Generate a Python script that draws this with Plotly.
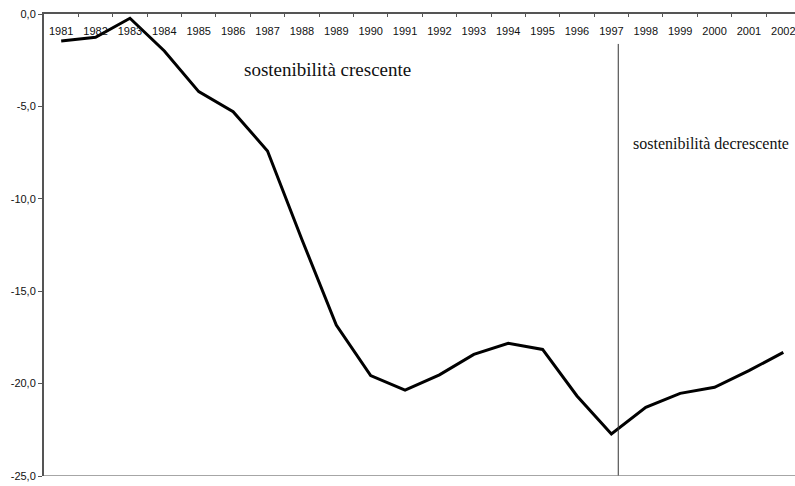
import plotly.graph_objects as go

years = [str(y) for y in range(1981, 2003)]
values = [-1.46, -1.26, -0.23, -2.0, -4.2, -5.29, -7.41, -12.2, -16.83, -19.57,
          -20.35, -19.53, -18.42, -17.82, -18.15, -20.67, -22.73, -21.28, -20.53,
          -20.2, -19.3, -18.31]
y_tickvals = [0, -5, -10, -15, -20, -25]
y_ticktext = ["0,0", "-5,0", "-10,0", "-15,0", "-20,0", "-25,0"]
divider_pos = 16.2   # category index just right of 1997
divider_top = -1.62
label_left = "sostenibilità crescente"
label_right = "sostenibilità decrescente"

fig = go.Figure()
fig.add_trace(go.Scatter(x=years, y=values, mode="lines",
                         line=dict(color="black", width=3), showlegend=False,
                         hoverinfo="skip"))

fig.add_shape(type="line", xref="x", yref="y", x0=divider_pos, x1=divider_pos,
              y0=-25, y1=divider_top, line=dict(color="#333333", width=1))
fig.add_shape(type="line", xref="paper", yref="y", x0=0, x1=1, y0=-25, y1=-25,
              line=dict(color="#888888", width=1.5))

fig.add_annotation(x=7.73, y=-3.0, xref="x", yref="y", text=label_left,
                   showarrow=False, font=dict(family="Liberation Serif", size=19, color="#111"))
fig.add_annotation(x=18.9, y=-7.0, xref="x", yref="y", text=label_right,
                   showarrow=False, font=dict(family="Liberation Serif", size=16, color="#111"))

fig.update_layout(
    width=795, height=486,
    margin=dict(l=44, r=0, t=14, b=10),
    plot_bgcolor="white", paper_bgcolor="white",
    font=dict(family="Liberation Sans, Arial", size=11, color="#111"),
    xaxis=dict(type="category", side="top", range=[-0.5, 21.34],
               tickson="boundaries", ticks="inside", ticklen=3, tickcolor="#555",
               ticklabelposition="inside", ticklabelstandoff=10,
               ticklabeloverflow="allow",
               showline=True, linecolor="#555", linewidth=1.5,
               showgrid=False, zeroline=False, tickfont=dict(size=11, color="#111")),
    yaxis=dict(range=[-25, 0], tickvals=y_tickvals, ticktext=y_ticktext,
               ticks="outside", ticklen=4, tickcolor="#555",
               ticklabeloverflow="allow",
               showline=True, linecolor="#555", linewidth=2,
               showgrid=False, zeroline=False, tickfont=dict(size=11, color="#111")),
)

fig.write_html("out.html", config={"displayModeBar": False},
               post_script="document.body.style.margin='0';document.body.style.overflow='hidden';")
